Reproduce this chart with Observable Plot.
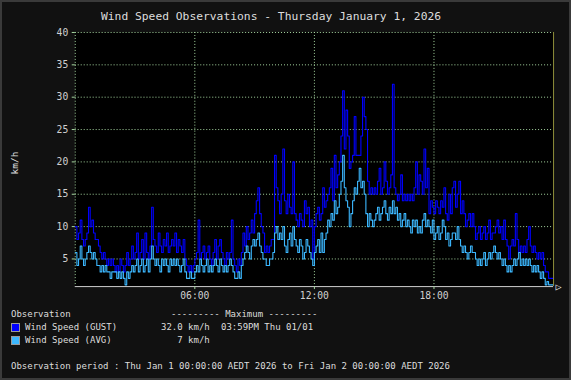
<!DOCTYPE html>
<html>
<head>
<meta charset="utf-8">
<script src="https://cdn.jsdelivr.net/npm/d3@7"></script>
<script src="https://cdn.jsdelivr.net/npm/@observablehq/plot@0.6"></script>
<style>
  html, body { margin: 0; padding: 0; background: #111; }
  #wrap { position: relative; width: 571px; height: 380px; box-sizing: border-box; border: 2px solid #3a3a3a; background: #111; overflow: hidden; font-family: "DejaVu Sans Mono", monospace; color: #ddd; }
  .t { position: absolute; white-space: pre; font-size: 9px; line-height: 13px; color: #ddd; }
  #title { position: absolute; left: 99px; top: 7px; font-size: 11.3px; line-height: 16px; white-space: pre; color: #ddd; }
  #ylab { position: absolute; left: 12px; top: 161px; transform: translate(-50%, -50%) rotate(-90deg); font-size: 9.5px; color: #ddd; white-space: pre; }
  #chart { position: absolute; left: -2px; top: 24px; }
  .sw { position: absolute; width: 7px; height: 7px; border: 1px solid #999; }
</style>
</head>
<body>
<div id="wrap">
  <div id="title"></div>
  <div id="ylab"></div>
  <div id="chart"></div>
  <div id="legend"></div>
</div>
<script>
const titleText = "Wind Speed Observations - Thursday January 1, 2026";
const yLabel = "km/h";
const seriesNames = ["Wind Speed (GUST)", "Wind Speed (AVG)"];
const seriesColors = ["#0000ff", "#3cb8ff"];
const maxValues = ["32.0 km/h", "   7 km/h"];
const maxTimes = ["03:59PM Thu 01/01", ""];
const legendHeader = "Observation";
const maxHeader = "--------- Maximum ---------";
const periodText = "Observation period : Thu Jan 1 00:00:00 AEDT 2026 to Fri Jan 2 00:00:00 AEDT 2026";

const yTicks = [5, 10, 15, 20, 25, 30, 35, 40];
const yMin = 0.73;
const xTicks = [6, 12, 18];
const xTickLabels = ["06:00", "12:00", "18:00"];

// 5-minute observations, hour by hour
const gust = [
  10, 8, 9, 11, 8, 7, 8, 9, 13, 10, 11, 9,
  8, 8, 7, 6, 5, 6, 5, 4, 5, 4, 5, 4,
  3, 4, 3, 5, 4, 3, 4, 6, 4, 5, 7, 5,
  6, 9, 5, 6, 8, 5, 9, 6, 5, 7, 13, 8,
  7, 6, 9, 7, 6, 8, 7, 9, 6, 7, 8, 7,
  9, 6, 8, 7, 6, 8, 5, 4, 3, 4, 3, 4,
  5, 6, 11, 5, 6, 7, 5, 6, 7, 5, 4, 6,
  8, 5, 7, 8, 6, 5, 4, 6, 5, 6, 11, 5,
  4, 3, 5, 4, 6, 9, 7, 10, 8, 9, 11, 9,
  12, 14, 16, 12, 10, 9, 6, 7, 6, 7, 8, 8,
  21, 16, 14, 12, 15, 22, 14, 12, 15, 13, 12, 20,
  12, 11, 10, 12, 11, 10, 14, 12, 13, 10, 11, 5,
  10, 12, 13, 11, 12, 16, 13, 14, 15, 16, 19, 14,
  21, 16, 18, 20, 24, 31, 22, 28, 24, 19, 20, 21,
  27, 21, 21, 21, 24, 30, 27, 25, 17, 15, 16, 15,
  16, 15, 17, 19, 15, 16, 20, 17, 15, 16, 18, 32,
  16, 15, 14, 15, 18, 14, 15, 14, 15, 14, 15, 14,
  16, 20, 15, 18, 17, 15, 22, 16, 19, 12, 14, 13,
  12, 14, 13, 12, 14, 13, 16, 12, 11, 15, 12, 16,
  17, 13, 15, 17, 12, 14, 12, 10, 11, 12, 10, 12,
  10, 8, 9, 10, 8, 9, 10, 8, 9, 11, 8, 9,
  9, 10, 11, 9, 10, 8, 11, 8, 7, 5, 7, 8,
  7, 12, 8, 6, 7, 6, 7, 6, 8, 10, 7, 6,
  7, 6, 5, 6, 5, 6, 4, 3, 3, 2, 2, 2
];
const avg = [
  6, 4, 5, 7, 5, 4, 5, 6, 7, 6, 5, 6,
  5, 4, 4, 3, 4, 3, 4, 3, 3, 2, 3, 3,
  3, 2, 3, 2, 3, 2, 1, 3, 2, 3, 4, 3,
  4, 5, 3, 4, 5, 3, 4, 5, 3, 5, 7, 5,
  4, 5, 4, 3, 5, 4, 5, 4, 3, 5, 4, 5,
  4, 5, 4, 3, 4, 5, 3, 2, 2, 3, 2, 2,
  3, 4, 3, 5, 4, 3, 4, 5, 3, 4, 3, 4,
  5, 4, 3, 5, 4, 3, 4, 3, 4, 5, 4, 3,
  2, 2, 3, 2, 4, 5, 6, 7, 6, 5, 7, 8,
  7, 8, 9, 7, 6, 5, 5, 4, 4, 5, 5, 6,
  9, 10, 8, 9, 8, 10, 7, 6, 8, 9, 7, 10,
  8, 7, 6, 8, 7, 5, 6, 8, 7, 6, 5, 4,
  6, 7, 8, 6, 9, 6, 8, 9, 11, 10, 12, 11,
  14, 12, 13, 15, 17, 21, 16, 14, 13, 10, 12, 14,
  16, 15, 17, 19, 16, 17, 15, 12, 10, 12, 11, 10,
  11, 12, 13, 11, 12, 13, 14, 12, 11, 13, 12, 14,
  12, 13, 11, 12, 10, 11, 12, 10, 11, 10, 9, 11,
  10, 11, 9, 10, 9, 11, 12, 10, 11, 10, 9, 11,
  8, 9, 10, 8, 9, 11, 10, 8, 9, 7, 8, 9,
  9, 8, 10, 8, 7, 6, 7, 6, 5, 6, 7, 6,
  6, 5, 4, 5, 4, 5, 6, 4, 5, 6, 5, 6,
  7, 6, 5, 6, 5, 4, 5, 4, 3, 4, 3, 4,
  5, 4, 5, 6, 4, 5, 4, 5, 4, 5, 4, 3,
  4, 3, 4, 3, 2, 3, 2, 1, 1.5, 1, 1, 1
];

const rows = gust.map((g, i) => ({t: i / 12, gust: g, avg: avg[i]}));
rows.push({t: 24, gust: gust[gust.length - 1], avg: avg[avg.length - 1]});

const gridColor = "#a6d6a0";

const chart = Plot.plot({
  width: 571,
  height: 281,
  marginLeft: 75,
  marginRight: 16,
  marginTop: 6,
  marginBottom: 20,
  style: {background: "transparent", color: "#ccc", fontFamily: "DejaVu Sans Mono", fontSize: "9.7px", overflow: "visible"},
  x: {domain: [0, 24], ticks: xTicks, label: null},
  y: {domain: [yMin, 40], ticks: yTicks, label: null},
  marks: [
    Plot.frame({fill: "black", stroke: null}),
    Plot.gridY(yTicks, {stroke: gridColor, strokeOpacity: 1, strokeDasharray: "1,2"}),
    Plot.gridX([0, ...xTicks], {stroke: gridColor, strokeOpacity: 1, strokeDasharray: "1,2"}),
    Plot.lineY(rows, {x: "t", y: "gust", curve: "step-after", stroke: seriesColors[0], strokeWidth: 1.1}),
    Plot.lineY(rows, {x: "t", y: "avg", curve: "step-after", stroke: seriesColors[1], strokeWidth: 1.1}),
    Plot.ruleX([24], {stroke: "#8f8f3a"}),
    Plot.ruleY([yMin], {stroke: "#cfcfcf"}),
    Plot.text(["\u25B7"], {frameAnchor: "bottom-right", dx: 5, dy: 0, fill: "#eee", fontSize: 10, lineAnchor: "middle", textAnchor: "middle"}),
    Plot.axisY(yTicks, {tickSize: 3, tickPadding: 4, stroke: gridColor, fill: "#d0d0d0", label: null}),
    Plot.axisX(xTicks, {tickSize: 3, tickPadding: 3, stroke: gridColor, fill: "#d0d0d0", label: null, tickFormat: (d, i) => xTickLabels[i]})
  ]
});
document.getElementById("chart").appendChild(chart);
document.getElementById("title").textContent = titleText;
document.getElementById("ylab").textContent = yLabel;

const leg = document.getElementById("legend");
function addText(txt, left, top) {
  const d = document.createElement("div");
  d.className = "t";
  d.style.left = left + "px";
  d.style.top = top + "px";
  d.textContent = txt;
  leg.appendChild(d);
}
addText(legendHeader, 9, 306);
addText(maxHeader, 169, 306);
seriesNames.forEach((name, i) => {
  const top = 319 + i * 13;
  const sw = document.createElement("div");
  sw.className = "sw";
  sw.style.left = "9px";
  sw.style.top = (top + 2) + "px";
  sw.style.background = seriesColors[i];
  leg.appendChild(sw);
  addText(name, 23, top);
  addText(maxValues[i], 159, top);
  if (maxTimes[i]) addText(maxTimes[i], 219, top);
});
addText(periodText, 9, 358);
</script>
</body>
</html>
